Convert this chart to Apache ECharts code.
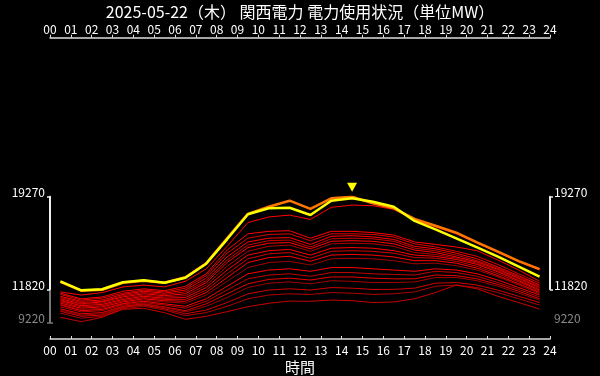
<!DOCTYPE html>
<html>
<head>
<meta charset="utf-8">
<script src="https://cdn.jsdelivr.net/npm/echarts@6/dist/echarts.min.js"></script>
<style>
  html, body { margin: 0; padding: 0; background: #000; }
  #chart { width: 600px; height: 376px; }
</style>
</head>
<body>
<div id="chart"></div>
<script>
// 時間（各時間帯の中央にプロット）
const hourMid = [0.5, 1.5, 2.5, 3.5, 4.5, 5.5, 6.5, 7.5, 8.5, 9.5, 10.5, 11.5,
  12.5, 13.5, 14.5, 15.5, 16.5, 17.5, 18.5, 19.5, 20.5, 21.5, 22.5, 23.5]

// 目盛り
const yTicksMain = [11820, 19270]
const yTickLow = [9220]

// 当日（黄色）
const today = [12500, 11780, 11860, 12420, 12580, 12390, 12790, 13910, 15860, 17860, 18340, 18390,
  17810, 18950, 19150, 18870, 18470, 17330, 16660, 15940, 15220, 14470, 13670, 12870]

// 比較日（オレンジ）
const orangeDay = [12450, 11750, 11820, 12380, 12550, 12380, 12830, 13950, 15950, 17900, 18470, 18950,
  18290, 19140, 19270, 18740, 18340, 17490, 16950, 16390, 15620, 14870, 14120, 13480]

// 過去日（赤）
const pastDays = [
  [11650, 11400, 11600, 12050, 12200, 12050, 12500, 13500, 15300, 17200, 17650, 17800, 17450, 18420, 18600, 18550, 18260, 17400, 16850, 16300, 15550, 14800, 14050, 13400],
  [11550, 11100, 11250, 11700, 11900, 11750, 12100, 13100, 15000, 16300, 16500, 16550, 15950, 16500, 16500, 16400, 16200, 15650, 15450, 15250, 14950, 14200, 13400, 12500],
  [11450, 11000, 11150, 11550, 11800, 11650, 11950, 12950, 14750, 15950, 16250, 16300, 15750, 16300, 16300, 16250, 16050, 15500, 15250, 14900, 14500, 13850, 13100, 12350],
  [11300, 10900, 11000, 11450, 11700, 11550, 11800, 12750, 14450, 15650, 15950, 16000, 15450, 16100, 16150, 16050, 15850, 15300, 15100, 14750, 14300, 13650, 12950, 12200],
  [11200, 10800, 10900, 11350, 11600, 11450, 11650, 12550, 14200, 15400, 15750, 15800, 15250, 15900, 15950, 15900, 15700, 15150, 14950, 14600, 14150, 13550, 12850, 12100],
  [11100, 10700, 10850, 11250, 11500, 11350, 11500, 12400, 14000, 15200, 15550, 15600, 15100, 15700, 15750, 15700, 15500, 15000, 14800, 14450, 14050, 13450, 12750, 12000],
  [11000, 10650, 10750, 11150, 11400, 11250, 11350, 12200, 13700, 14900, 15300, 15400, 14900, 15500, 15550, 15500, 15300, 14800, 14650, 14350, 13950, 13350, 12650, 11900],
  [10950, 10550, 10650, 11050, 11300, 11150, 11200, 12000, 13400, 14600, 14950, 15050, 14600, 15150, 15200, 15150, 14950, 14600, 14500, 14250, 13850, 13250, 12550, 11800],
  [10850, 10450, 10550, 10950, 11200, 11050, 11050, 11800, 13100, 14300, 14700, 14800, 14350, 14900, 14950, 14900, 14750, 14400, 14350, 14100, 13700, 13100, 12450, 11700],
  [10750, 10350, 10450, 10850, 11100, 10950, 10900, 11600, 12800, 14000, 14400, 14500, 14100, 14600, 14650, 14600, 14450, 14150, 14150, 13950, 13550, 12950, 12300, 11600],
  [10650, 10250, 10350, 10750, 11000, 10850, 10750, 11400, 12500, 13600, 14000, 14100, 13800, 14300, 14350, 14300, 14150, 13900, 13950, 13750, 13400, 12850, 12200, 11500],
  [10600, 10150, 10250, 10700, 10900, 10700, 10500, 11100, 12100, 13100, 13400, 13500, 13300, 13600, 13600, 13500, 13400, 13300, 13500, 13400, 13100, 12600, 12000, 11400],
  [10450, 10050, 10150, 10600, 10800, 10600, 10350, 10900, 11800, 12700, 13000, 13100, 12900, 13200, 13200, 13100, 13050, 13000, 13300, 13200, 12900, 12400, 11850, 11250],
  [10300, 9900, 10000, 10500, 10700, 10450, 10150, 10700, 11500, 12300, 12650, 12750, 12600, 12850, 12850, 12750, 12700, 12700, 13000, 12950, 12700, 12250, 11700, 11100],
  [10200, 9800, 9900, 10450, 10650, 10400, 10050, 10500, 11200, 12000, 12350, 12450, 12300, 12550, 12500, 12400, 12400, 12450, 12800, 12800, 12550, 12100, 11550, 11000],
  [10100, 9700, 9800, 10400, 10600, 10300, 9900, 10200, 10800, 11500, 11800, 11900, 11800, 12000, 11950, 11850, 11850, 11950, 12350, 12400, 12200, 11800, 11300, 10800],
  [9950, 9550, 9700, 10300, 10500, 10200, 9750, 10000, 10500, 11100, 11400, 11500, 11450, 11600, 11550, 11450, 11500, 11650, 12100, 12200, 12000, 11600, 11100, 10600],
  [9620, 9270, 9620, 10260, 10340, 9990, 9460, 9700, 10070, 10470, 10740, 10920, 10900, 11000, 10950, 10800, 10850, 11100, 11600, 12200, 11900, 11300, 10800, 10280]
]
const pastColors = ['#ff0000', '#ff0000', '#e00000', '#ff0000', '#c80000', '#ff0000', '#b00000', '#ff0000',
  '#d00000', '#ff0000', '#a00000', '#ff0000', '#c00000', '#e80000', '#a00000', '#d00000', '#b00000', '#c80000']

const chart = echarts.init(document.getElementById('chart'))

const fontFamily = '"Noto Sans CJK JP", "Noto Sans", sans-serif'
const pair = (vals) => vals.map((v, i) => [hourMid[i], v])
const pad2 = (v) => String(v).padStart(2, '0')
const plain = (v) => String(v)

const series = pastDays.map((vals, i) => ({
  type: 'line',
  xAxisIndex: 1,
  yAxisIndex: 0,
  data: pair(vals),
  showSymbol: false,
  silent: true,
  lineStyle: { width: 1, color: pastColors[i] }
}))

series.push({
  type: 'line',
  xAxisIndex: 1,
  yAxisIndex: 0,
  data: pair(orangeDay),
  showSymbol: false,
  lineStyle: { width: 2.5, color: '#ff7700' }
})

series.push({
  type: 'line',
  xAxisIndex: 1,
  yAxisIndex: 0,
  data: pair(today),
  showSymbol: false,
  lineStyle: { width: 2.5, color: '#ffff00' },
  markPoint: {
    symbol: 'triangle',
    symbolRotate: 180,
    symbolSize: [10, 9],
    symbolOffset: [0, -11],
    itemStyle: { color: '#ffff00' },
    label: { show: false },
    data: [{ type: 'max' }]
  }
})

const xCommon = {
  type: 'value',
  gridIndex: 0,
  min: 0,
  max: 24,
  interval: 1,
  splitLine: { show: false },
  axisLine: { lineStyle: { color: '#ddd', width: 1.5 } },
  axisTick: { length: 3, lineStyle: { color: '#ddd' } },
  axisLabel: { color: '#fff', fontSize: 12, fontFamily: fontFamily, formatter: pad2, showMinLabel: true, showMaxLabel: true }
}

const yLabel = (vals, color, margin) => ({
  customValues: vals,
  formatter: plain,
  color: color,
  fontSize: 12,
  margin: margin,
  fontFamily: fontFamily,
  verticalAlign: 'bottom',
  lineHeight: 8
})

const yAxisOf = (grid, pos, min, max, ticks, lineColor, labelColor) => ({
  type: 'value', gridIndex: grid, position: pos, min: min, max: max,
  splitLine: { show: false },
  axisLine: { show: true, lineStyle: { color: lineColor, width: 2 } },
  axisTick: { show: true, length: 3, customValues: ticks, lineStyle: { color: lineColor, width: 1.5 } },
  axisLabel: yLabel(ticks, labelColor, pos === 'left' ? 5 : 4)
})

const option = {
  backgroundColor: '#000',
  animation: false,
  title: {
    text: '2025-05-22（木） 関西電力 電力使用状況（単位MW）',
    left: 'center',
    top: -1,
    textStyle: { color: '#fff', fontSize: 16, fontWeight: 'normal', fontFamily: fontFamily }
  },
  grid: [
    { left: 50, right: 50, top: 196.7, bottom: 53.7, outerBoundsMode: 'none' },
    { left: 50, right: 50, top: 196.7, height: 92.6, outerBoundsMode: 'none' }
  ],
  xAxis: [
    Object.assign({}, xCommon, {
      position: 'top',
      offset: 159,
      axisLabel: Object.assign({}, xCommon.axisLabel, { margin: 2 })
    }),
    Object.assign({}, xCommon, {
      position: 'bottom',
      offset: 16.7,
      axisTick: { length: 3, inside: true, lineStyle: { color: '#ddd' } },
      axisLabel: Object.assign({}, xCommon.axisLabel, { margin: 5 }),
      name: '時間',
      nameLocation: 'middle',
      nameGap: 21,
      nameTextStyle: { color: '#fff', fontSize: 15, fontFamily: fontFamily }
    }),
    { type: 'value', gridIndex: 1, min: 0, max: 24, show: false }
  ],
  yAxis: [
    yAxisOf(0, 'left', 9220, 19270, yTickLow, '#777', '#888'),
    yAxisOf(0, 'right', 9220, 19270, yTickLow, '#777', '#888'),
    yAxisOf(1, 'left', 11820, 19270, yTicksMain, '#eee', '#fff'),
    yAxisOf(1, 'right', 11820, 19270, yTicksMain, '#eee', '#fff')
  ],
  series: series
}

chart.setOption(option)
</script>
</body>
</html>
